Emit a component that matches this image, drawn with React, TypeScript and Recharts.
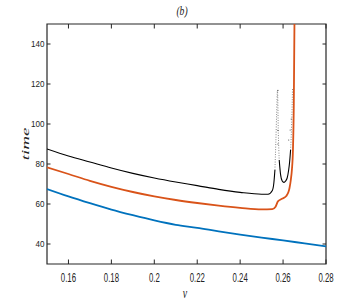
import { ComposedChart, Line, Scatter, XAxis, YAxis, ReferenceArea } from 'recharts';

// axis ticks
const xTicks = [0.16, 0.18, 0.2, 0.22, 0.24, 0.26, 0.28];
const yTicks = [40, 60, 80, 100, 120, 140];

// blue branch
const blueV = [0.15, 0.16, 0.17, 0.18, 0.19, 0.2, 0.21, 0.22, 0.23, 0.24, 0.25, 0.26, 0.27, 0.28];
const blueT = [67.5, 63.8, 60.4, 57.2, 54.4, 51.8, 49.6, 48.1, 46.3, 44.7, 43.2, 41.8, 40.3, 38.8];

// orange branch
const orangeV = [0.15, 0.16, 0.17, 0.18, 0.19, 0.2, 0.21, 0.22, 0.23, 0.24, 0.25, 0.255, 0.2565, 0.2576, 0.2595, 0.2615, 0.2625, 0.263, 0.2636, 0.2641, 0.2646, 0.265, 0.2653];
const orangeT = [78.3, 75, 71.6, 68.6, 66, 63.8, 62, 60.5, 59.2, 58.1, 57.3, 57.4, 58.6, 61.3, 62.6, 64, 66, 68, 72, 77, 87, 110, 150];

// black branch: solid part
const blackV = [0.15, 0.16, 0.17, 0.18, 0.19, 0.2, 0.21, 0.22, 0.23, 0.24, 0.25, 0.253, 0.255, 0.2557, 0.2562];
const blackT = [87.5, 84, 81, 78, 75.3, 73, 71, 69.2, 67.3, 65.8, 64.9, 64.9, 66.8, 70.5, 77];
// black branch: first faint burst
const burst1V = [0.2562, 0.2566, 0.257, 0.2574, 0.2578, 0.2582];
const burst1T = [77, 90, 105, 117, 95, 82];
// black branch: dip
const dipV = [0.2582, 0.2588, 0.2596, 0.2604, 0.2612, 0.2619, 0.2626, 0.263, 0.2635];
const dipT = [82, 75, 71.5, 70.8, 71.5, 73, 77, 80.5, 87];
// black branch: second faint burst
const burst2V = [0.2635, 0.264, 0.2644];
const burst2T = [87, 100, 118];

// scattered points of the black branch near the edge
const dotV = [0.2576, 0.2576, 0.2576, 0.2638, 0.2633, 0.2626];
const dotT = [116.8, 96.8, 90, 102.5, 97, 92];

const pts = (v: number[], t: number[]) => v.map((x, i) => ({ v: x, t: t[i] }));

const W = 360;
const H = 305;
const PLOT_TOP = 24;
const PLOT_LEFT = 47;
const PLOT_RIGHT = 326;
const PLOT_BOTTOM = 264;
const AXIS = '#262626';

const XTick = (props: any) => {
  const { x, payload } = props;
  return (
    <g>
      <line x1={x} x2={x} y1={PLOT_BOTTOM} y2={PLOT_BOTTOM - 4.5} stroke={AXIS} strokeWidth={1} />
      <line x1={x} x2={x} y1={PLOT_TOP} y2={PLOT_TOP + 4.5} stroke={AXIS} strokeWidth={1} />
      <text
        transform={`translate(${x},${PLOT_BOTTOM + 17.5}) scale(0.6,1)`}
        textAnchor="middle"
        fontSize={13}
        fontFamily="'Liberation Sans', Arial, sans-serif"
        fill="#222"
      >
        {payload.value}
      </text>
    </g>
  );
};

const YTick = (props: any) => {
  const { y, payload } = props;
  return (
    <g>
      <line x1={PLOT_LEFT} x2={PLOT_LEFT + 3.5} y1={y} y2={y} stroke={AXIS} strokeWidth={1} />
      <line x1={PLOT_RIGHT} x2={PLOT_RIGHT - 3.5} y1={y} y2={y} stroke={AXIS} strokeWidth={1} />
      <text
        transform={`translate(${PLOT_LEFT - 2.5},${y + 3.4}) scale(0.85,1)`}
        textAnchor="end"
        fontSize={9.5}
        fontFamily="'Liberation Sans', Arial, sans-serif"
        fill="#222"
      >
        {payload.value}
      </text>
    </g>
  );
};

const Dot = (p: any) => <circle cx={p.cx} cy={p.cy} r={0.6} fill="#555" />;

const serif = "'Liberation Serif', 'Times New Roman', serif";

export default function App() {
  return (
    <div style={{ position: 'absolute', left: 0, top: 0, width: W, height: H, background: '#fff' }}>
      <ComposedChart width={W} height={H} margin={{ top: PLOT_TOP, right: W - PLOT_RIGHT, left: 0, bottom: 0 }}>
        <XAxis
          dataKey="v"
          type="number"
          domain={[0.15, 0.28]}
          ticks={xTicks}
          interval={0}
          tick={<XTick />}
          tickLine={false}
          axisLine={false}
          height={H - PLOT_BOTTOM}
          allowDataOverflow
        />
        <YAxis
          type="number"
          domain={[30, 150]}
          ticks={yTicks}
          interval={0}
          tick={<YTick />}
          tickLine={false}
          axisLine={false}
          width={PLOT_LEFT}
          allowDataOverflow
        />
        <ReferenceArea x1={0.15} x2={0.28} y1={30} y2={150} fill="none" stroke={AXIS} strokeWidth={1.2} ifOverflow="visible" />
        <Line data={pts(blueV, blueT)} dataKey="t" type="monotone" stroke="#0072BD" strokeWidth={1.8} dot={false} isAnimationActive={false} />
        <Line data={pts(blackV, blackT)} dataKey="t" type="monotone" stroke="#000" strokeWidth={1.1} dot={false} isAnimationActive={false} />
        <Line data={pts(burst1V, burst1T)} dataKey="t" type="monotone" stroke="#555" strokeWidth={0.7} strokeDasharray="1 1.5" dot={false} isAnimationActive={false} />
        <Line data={pts(dipV, dipT)} dataKey="t" type="monotone" stroke="#000" strokeWidth={1.1} dot={false} isAnimationActive={false} />
        <Line data={pts(burst2V, burst2T)} dataKey="t" type="monotone" stroke="#555" strokeWidth={0.7} strokeDasharray="1 1.5" dot={false} isAnimationActive={false} />
        <Line data={pts(orangeV, orangeT)} dataKey="t" type="monotone" stroke="#D95319" strokeWidth={1.8} dot={false} isAnimationActive={false} />
        <Scatter data={pts(dotV, dotT)} dataKey="t" shape={<Dot />} isAnimationActive={false} />
      </ComposedChart>
      <div style={{ position: 'absolute', left: 181.5, top: 11, transform: 'translate(-50%,-50%) scale(0.8,1)', fontFamily: serif, fontStyle: 'italic', fontSize: 12, lineHeight: 1, color: '#222', whiteSpace: 'nowrap' }}>
        (b)
      </div>
      <div style={{ position: 'absolute', left: 24.5, top: 144, transform: 'translate(-50%,-50%) rotate(-90deg) scale(1,0.6)', fontFamily: serif, fontStyle: 'italic', fontSize: 19, lineHeight: 1, color: '#222', whiteSpace: 'nowrap' }}>
        time
      </div>
      <div style={{ position: 'absolute', left: 184.5, top: 294, transform: 'translate(-50%,-50%) scale(0.7,1)', fontFamily: serif, fontStyle: 'italic', fontSize: 14, lineHeight: 1, color: '#222', whiteSpace: 'nowrap' }}>
        v
      </div>
    </div>
  );
}
